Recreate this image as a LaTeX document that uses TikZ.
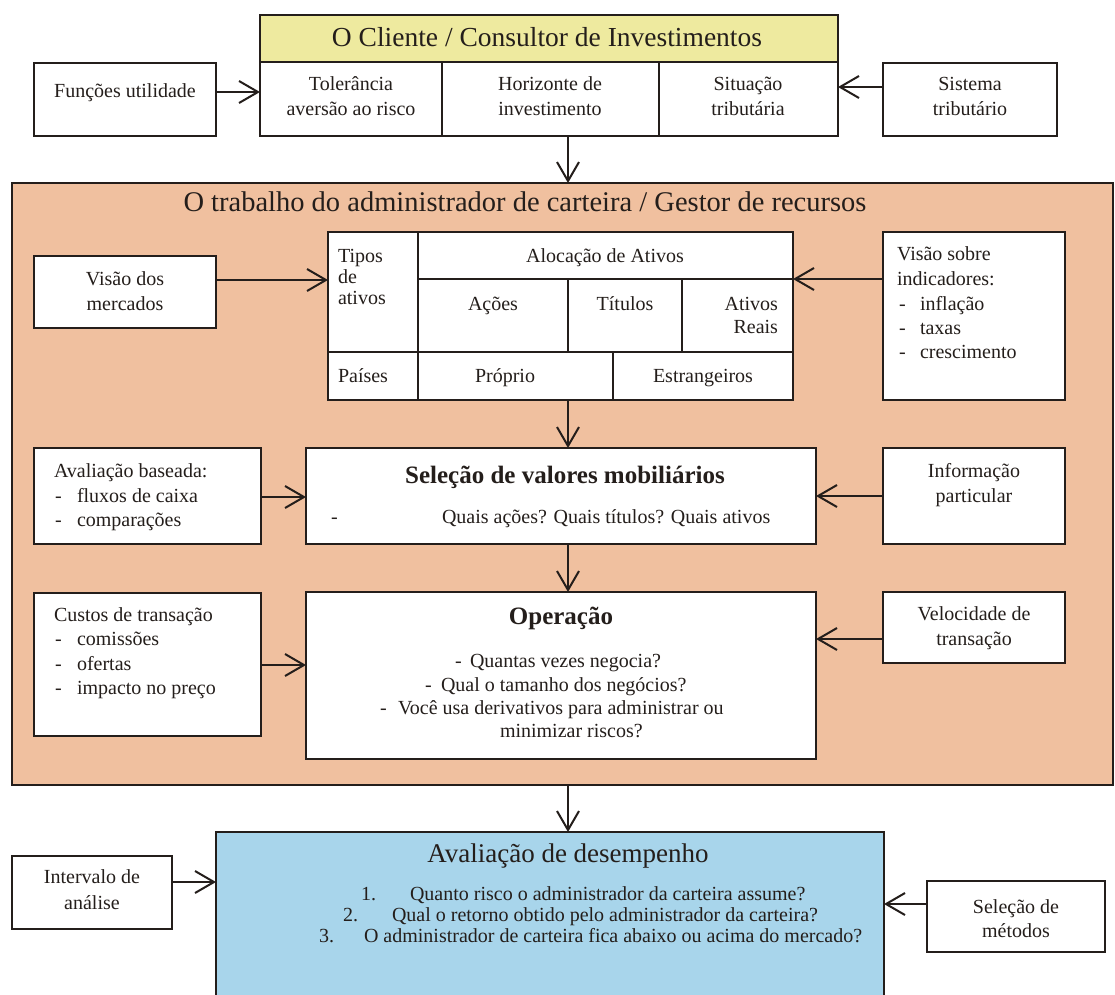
\documentclass[tikz,border=0pt]{standalone}
\usepackage{fontspec}
\setmainfont{Liberation Serif}
\usetikzlibrary{arrows.meta}
\definecolor{ink}{HTML}{241E1B}
\definecolor{hdryel}{HTML}{EEEA9F}
\definecolor{peach}{HTML}{F0C09F}
\definecolor{skyb}{HTML}{A8D5EB}
\newcommand\bx[6]{\node[box,#6,minimum width={#4-#2},minimum height={#5-#3}] (#1) at ({(#2+#4)/2},{(#3+#5)/2}) {};}
\newcommand\dl[5]{\node[txt,anchor=west] (#1d) at (#2,#4) {-}; \node[txt,anchor=west] (#1) at (#3,#4) {#5};}
\tikzset{
  box/.style={draw=ink, line width=2pt, fill=white, inner sep=0pt, outer sep=0pt, rectangle},
  txt/.style={inner sep=0pt, outer sep=0pt, text=ink, font=\fontsize{20}{23}\selectfont, text height=14pt, text depth=4pt},
  big/.style={txt, font=\fontsize{27.5}{31}\selectfont, text height=19pt, text depth=5.5pt},
  mid/.style={txt, font=\fontsize{27}{30}\selectfont, text height=18.5pt, text depth=5.5pt},
  hd/.style={txt, font=\fontsize{25}{29}\selectfont\bfseries, text height=17pt, text depth=5pt},
  arr/.style={draw=ink, line width=2pt, -{Straight Barb[length=19pt,width=22pt,line width=2pt]}}
}
\begin{document}
\begin{tikzpicture}[x=1pt,y=-1pt]
\useasboundingbox (0,0) rectangle (1115,994);
\fill[white] (0,0) rectangle (1115,994);
% coordinates for arrow levels
\coordinate (spine) at (568,0);
\coordinate (afun) at (0,92);
\coordinate (asis) at (0,87);
\coordinate (avis) at (0,280);
\coordinate (aind) at (0,279);
\coordinate (aava) at (0,497);
\coordinate (ainf) at (0,496);
\coordinate (acus) at (0,665);
\coordinate (avel) at (0,639);
\coordinate (aint) at (0,882);
\coordinate (amet) at (0,904);
% top: client
\bx{clienthd}{260}{15}{838}{62}{fill=hdryel}
\bx{tol}{260}{62}{442}{136}{}
\bx{hor}{442}{62}{659}{136}{}
\bx{sit}{659}{62}{838}{136}{}
\bx{funcoes}{34}{63}{216}{136}{}
\bx{sistema}{883}{63}{1057}{136}{}
% work area
\bx{work}{12}{183}{1113}{785}{fill=peach}
\bx{tipos}{328}{232}{418}{352}{}
\bx{aloc}{418}{232}{793}{279}{}
\bx{acoes}{418}{279}{568}{352}{}
\bx{titulos}{568}{279}{682}{352}{}
\bx{reais}{682}{279}{793}{352}{}
\bx{paises}{328}{352}{418}{400}{}
\bx{proprio}{418}{352}{613}{400}{}
\bx{estr}{613}{352}{793}{400}{}
\bx{visao}{34}{256}{216}{328}{}
\bx{indic}{883}{232}{1065}{400}{}
\bx{avalb}{34}{448}{261}{544}{}
\bx{selecao}{306}{448}{816}{544}{}
\bx{info}{883}{448}{1065}{544}{}
\bx{custos}{34}{593}{261}{736}{}
\bx{operacao}{306}{592}{816}{759}{}
\bx{veloc}{883}{592}{1065}{663}{}
% bottom
\begin{scope}
\clip (0,0) rectangle (1115,994);
\bx{aval}{216}{832}{884}{1012}{fill=skyb}
\end{scope}
\bx{interv}{12}{856}{172}{929}{}
\bx{metodos}{927}{881}{1105}{952}{}
% connectors
\draw[arr] (funcoes.east |- afun) -- (tol.west |- afun);
\draw[arr] (sistema.west |- asis) -- (sit.east |- asis);
\draw[arr] (spine |- hor.south) -- (spine |- work.north);
\draw[arr] (visao.east |- avis) -- (tipos.west |- avis);
\draw[arr] (indic.west |- aind) -- (reais.east |- aind);
\draw[arr] (spine |- proprio.south) -- (spine |- selecao.north);
\draw[arr] (avalb.east |- aava) -- (selecao.west |- aava);
\draw[arr] (info.west |- ainf) -- (selecao.east |- ainf);
\draw[arr] (spine |- selecao.south) -- (spine |- operacao.north);
\draw[arr] (custos.east |- acus) -- (operacao.west |- acus);
\draw[arr] (veloc.west |- avel) -- (operacao.east |- avel);
\draw[arr] (spine |- work.south) -- (spine |- aval.north);
\draw[arr] (interv.east |- aint) -- (aval.west |- aint);
\draw[arr] (metodos.west |- amet) -- (aval.east |- amet);
% texts top
\node[big] (tclient) at (547,40) {O Cliente / Consultor de Investimentos};
\node[txt] (tfun) at (125,92) {Funções utilidade};
\node[txt] (ttol1) at (351,85) {Tolerância};
\node[txt] (ttol2) at (351,110) {aversão ao risco};
\node[txt] (thor1) at (550,85) {Horizonte de};
\node[txt] (thor2) at (550,110) {investimento};
\node[txt] (tsit1) at (748,85) {Situação};
\node[txt] (tsit2) at (748,110) {tributária};
\node[txt] (tsis1) at (970,85) {Sistema};
\node[txt] (tsis2) at (970,110) {tributário};
% work texts
\node[big,font=\fontsize{28.5}{32}\selectfont] (twork) at (525,205) {O trabalho do administrador de carteira / Gestor de recursos};
\node[txt] (tvis1) at (125,280) {Visão dos};
\node[txt] (tvis2) at (125,305) {mercados};
\node[txt,anchor=west] (ttip1) at (338,257) {Tipos};
\node[txt,anchor=west] (ttip2) at (338,278) {de};
\node[txt,anchor=west] (ttip3) at (338,299) {ativos};
\node[txt] (taloc) at (605,257) {Alocação de Ativos};
\node[txt] (tacoes) at (493,305) {Ações};
\node[txt] (ttit) at (625,305) {Títulos};
\node[txt,anchor=east] (tatr1) at (778,305) {Ativos};
\node[txt,anchor=east] (tatr2) at (778,328) {Reais};
\node[txt,anchor=west] (tpai) at (338,377) {Países};
\node[txt] (tpro) at (505,377) {Próprio};
\node[txt] (test) at (703,377) {Estrangeiros};
\node[txt,anchor=west] (tind1) at (897,255) {Visão sobre};
\node[txt,anchor=west] (tind2) at (897,280) {indicadores:};
\dl{tinf}{899}{920}{305}{inflação}
\dl{ttax}{899}{920}{329}{taxas}
\dl{tcre}{899}{920}{353}{crescimento}
\node[txt,anchor=west] (tava) at (54,472) {Avaliação baseada:};
\dl{tflu}{55}{77}{497}{fluxos de caixa}
\dl{tcom}{55}{77}{521}{comparações}
\node[hd] (tsel) at (565,477) {Seleção de valores mobiliários};
\node[txt,anchor=west] (tseld) at (331,518) {-};
\node[txt,anchor=west] (tsel2) at (442,518) {Quais ações? Quais títulos? Quais ativos};
\node[txt] (tinfo1) at (974,472) {Informação};
\node[txt] (tinfo2) at (974,497) {particular};
\node[txt,anchor=west] (tcus) at (54,616) {Custos de transação};
\dl{tcms}{55}{77}{640}{comissões}
\dl{tofe}{55}{77}{665}{ofertas}
\dl{timp}{55}{77}{689}{impacto no preço}
\node[hd] (top) at (561,618) {Operação};
\dl{tq1}{455}{470}{662}{Quantas vezes negocia?}
\dl{tq2}{425}{441}{686}{Qual o tamanho dos negócios?}
\dl{tq3}{380}{398}{709}{Você usa derivativos para administrar ou}
\node[txt,anchor=west] (tq4) at (500,732) {minimizar riscos?};
\node[txt] (tvel1) at (974,615) {Velocidade de};
\node[txt] (tvel2) at (974,640) {transação};
% bottom texts
\node[txt] (tint1) at (92,878) {Intervalo de};
\node[txt] (tint2) at (92,904) {análise};
\node[mid] (taval) at (568,856) {Avaliação de desempenho};
\node[txt,anchor=east] (tn1) at (376,895) {1.};
\node[txt,anchor=west] (tl1) at (410,895) {Quanto risco o administrador da carteira assume?};
\node[txt,anchor=east] (tn2) at (358,916) {2.};
\node[txt,anchor=west] (tl2) at (392,916) {Qual o retorno obtido pelo administrador da carteira?};
\node[txt,anchor=east] (tn3) at (334,937) {3.};
\node[txt,anchor=west] (tl3) at (364,937) {O administrador de carteira fica abaixo ou acima do mercado?};
\node[txt] (tmet1) at (1016,908) {Seleção de};
\node[txt] (tmet2) at (1016,932) {métodos};
\end{tikzpicture}
\end{document}
